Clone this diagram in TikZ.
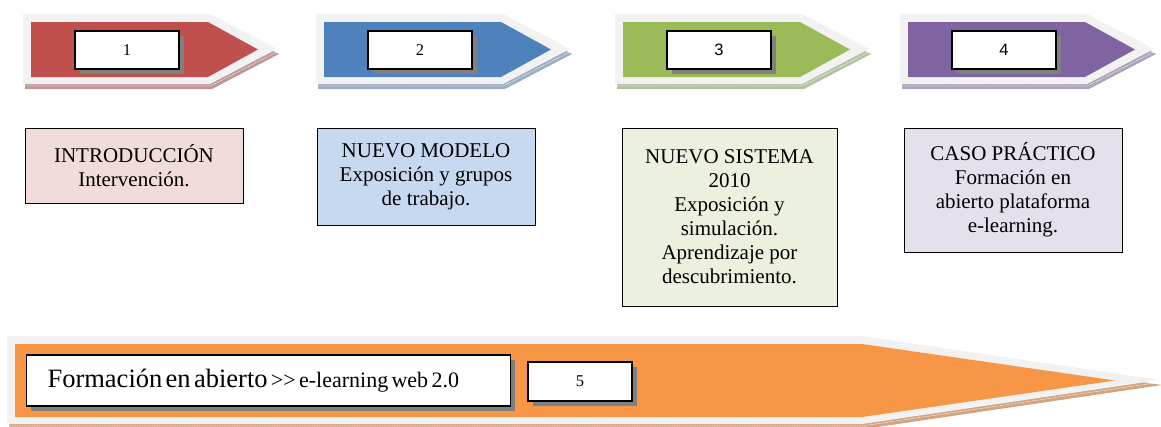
\documentclass[tikz,border=0pt]{standalone}
\usepackage{fontspec}
\setmainfont{Liberation Serif}
\newfontfamily\arialfont{Liberation Sans}
\definecolor{cred}{HTML}{C0504D}
\definecolor{cblue}{HTML}{4F81BD}
\definecolor{cgreen}{HTML}{9BBB59}
\definecolor{cpurple}{HTML}{8064A2}
\definecolor{corange}{HTML}{F79646}
\definecolor{sred}{HTML}{BE9896}
\definecolor{sblue}{HTML}{9EADC2}
\definecolor{sgreen}{HTML}{B3C2A0}
\definecolor{spurple}{HTML}{AEA4BA}
\definecolor{sorange}{HTML}{D2A47F}
\definecolor{pred}{HTML}{F2DCDB}
\definecolor{pblue}{HTML}{C6D9F1}
\definecolor{pgreen}{HTML}{EBF1DE}
\definecolor{ppurple}{HTML}{E5E0EC}
\definecolor{ltgray}{HTML}{F2F2F2}
\definecolor{shgray}{HTML}{808080}
\newcommand{\pentarrow}[5]{% #1 left x, #2 main, #3 shadow, #4 node name, #5 label
  \begin{scope}[shift={(#1,0)}]
    \fill[#3] (2,19) -- (189,19) -- (256,54) -- (189,89) -- (2,89) -- cycle;
    \fill[ltgray] (0,14) -- (187,14) -- (254,49) -- (187,84) -- (0,84) -- cycle;
    \draw[white, line width=0.5pt, dash pattern=on 1.5pt off 1pt] (2,85.8) -- (188,85.8) -- (255.5,51);
    \fill[#2] (8,22) -- (185,22) -- (235,49.5) -- (185,77) -- (8,77) -- cycle;
    \fill[shgray] (57,36) rectangle (161,74);
    \node[numbox] (#4) at (104,50) {#5};
  \end{scope}}
\begin{document}
\begin{tikzpicture}[x=1pt,y=-1pt,
  numbox/.style={draw=black, line width=1.1pt, fill=white, minimum width=104pt, minimum height=38pt, inner sep=0pt, font=\fontsize{16.5}{18}\selectfont},
  infobox/.style={draw=black, line width=0.9pt, align=center, inner sep=0pt, font=\fontsize{21}{24}\selectfont}]
\useasboundingbox (0,0) rectangle (1161,426);

\pentarrow{23}{cred}{sred}{n1}{1}
\pentarrow{316}{cblue}{sblue}{n2}{2}
\pentarrow{615}{cgreen}{sgreen}{n3}{{\arialfont 3}}
\pentarrow{900}{cpurple}{spurple}{n4}{{\arialfont 4}}

\node[infobox, fill=pred, minimum width=218pt, minimum height=75pt] (b1) at (134,165.5)
  {INTRODUCCIÓN\\Intervención.};
\node[infobox, fill=pblue, minimum width=218pt, minimum height=97pt] (b2) at (426,176.5)
  {NUEVO MODELO\\Exposición y grupos\\de trabajo.};
\node[infobox, fill=pgreen, minimum width=215pt, minimum height=178pt] (b3) at (729.5,217)
  {NUEVO SISTEMA\\2010\\Exposición y\\simulación.\\Aprendizaje por\\descubrimiento.};
\node[infobox, fill=ppurple, minimum width=218pt, minimum height=124pt] (b4) at (1013,190)
  {CASO PRÁCTICO\\Formación en\\abierto plataforma\\e-learning.};

% bottom arrow
\fill[sorange] (9,341) -- (864,341) -- (1162,385) -- (864,429) -- (9,429) -- cycle;
\fill[ltgray] (7,336) -- (862,336) -- (1160,380) -- (862,424) -- (7,424) -- cycle;
\draw[white, line width=0.5pt, dash pattern=on 1.5pt off 1pt] (9,425.8) -- (863,425.8) -- (1161,382);
\fill[corange] (15,344) -- (862,344) -- (1115,380.5) -- (862,417) -- (15,417) -- cycle;
\fill[shgray] (31,360) rectangle (515,411);
\node[draw=black, line width=1.1pt, fill=white, anchor=west, text width=442pt, inner xsep=21pt, inner ysep=0pt, minimum height=51pt, align=left] (t5) at (26,380.5)
  {{\fontsize{26.5}{28}\selectfont Formación en abierto} {\fontsize{22}{24}\selectfont {>}{>} e-learning web 2.0}};
\fill[shgray] (533,367) rectangle (637,406);
\node[numbox, minimum height=39pt] (n5) at (580,381.5) {5};
\end{tikzpicture}
\end{document}
